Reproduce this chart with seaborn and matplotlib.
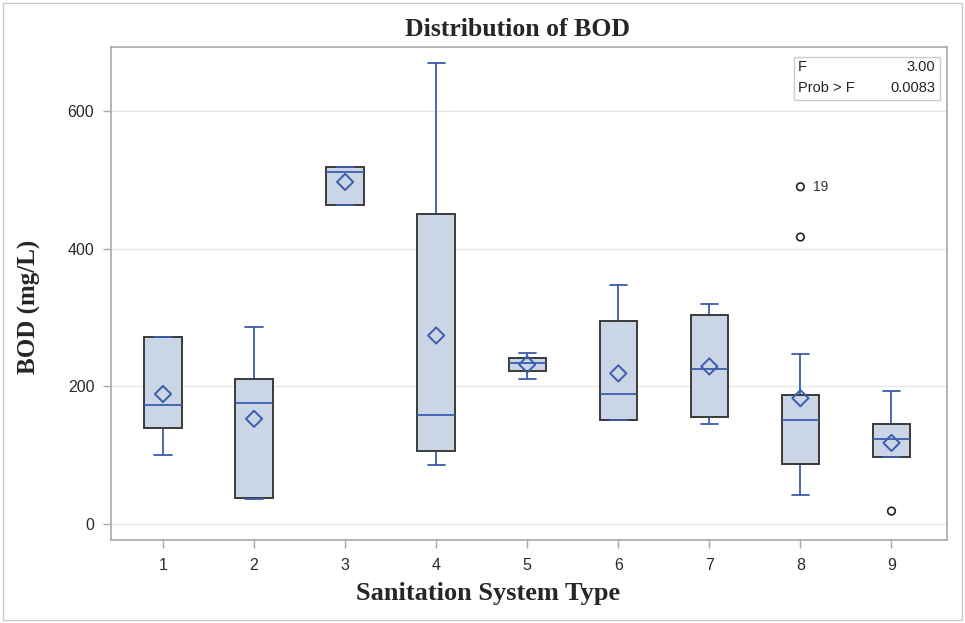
import matplotlib
matplotlib.use("Agg")
import matplotlib.pyplot as plt
from matplotlib.patches import Rectangle
import seaborn as sns
import numpy as np

# Sanitation system types and BOD box-plot summaries (mg/L)
system_types = ["1", "2", "3", "4", "5", "6", "7", "8", "9"]
q1_values = [140, 38, 464, 106, 222, 152, 155, 88, 98]
median_values = [173, 176, 511, 159, 234, 189, 226, 151, 124]
q3_values = [272, 211, 519, 450, 241, 295, 304, 188, 146]
whisker_low = [101, 36, 464, 86, 211, 151, 145, 42, 98]
whisker_high = [272, 286, 519, 670, 248, 347, 320, 247, 194]
mean_values = [189, 153, 497, 274, 232, 219, 229, 183, 118]
outlier_type = ["8", "8", "9"]
outlier_values = [490, 417, 19]
outlier_ids = ["19", "", ""]
y_ticks = [0, 200, 400, 600]
f_value = "3.00"
prob_f = "0.0083"

sns.set_theme(style="whitegrid")
plt.rcParams["font.family"] = ["Liberation Sans", "DejaVu Sans"]

BLUE = "#3A5DAE"
FILL = "#CAD5E6"
EDGE = "#3A3A3A"
SPINE = "#A8A8A8"

fig = plt.figure(figsize=(9.65, 6.23), dpi=100)
fig.patch.set_facecolor("white")
fig.add_artist(Rectangle((0.003, 0.005), 0.994, 0.99, transform=fig.transFigure,
                         fill=False, edgecolor="#C8C8C8", linewidth=1.0))
ax = fig.add_axes([0.115, 0.1332, 0.866, 0.7914])

positions = np.arange(len(system_types))
stats = []
for i, name in enumerate(system_types):
    stats.append({
        "label": name,
        "q1": q1_values[i], "med": median_values[i], "q3": q3_values[i],
        "whislo": whisker_low[i], "whishi": whisker_high[i],
        "mean": mean_values[i], "fliers": [],
    })

ax.bxp(stats, positions=positions, widths=0.41, capwidths=0.19,
       patch_artist=True, showmeans=False, showfliers=False,
       boxprops=dict(facecolor=FILL, edgecolor=EDGE, linewidth=1.4, zorder=3),
       whiskerprops=dict(color=BLUE, linewidth=1.3, zorder=2),
       capprops=dict(color=BLUE, linewidth=1.3, zorder=4),
       medianprops=dict(color=BLUE, linewidth=1.3, zorder=4))

# Group means as open diamonds
sns.scatterplot(x=positions, y=mean_values, marker="D", s=68,
                color=BLUE, linewidth=1.4, ax=ax, zorder=5)
ax.collections[-1].set_facecolor("none")
ax.collections[-1].set_edgecolor(BLUE)

# Outlying observations as open circles
out_x = [system_types.index(t) for t in outlier_type]
sns.scatterplot(x=out_x, y=outlier_values, marker="o", s=30,
                color="black", linewidth=1.2, ax=ax, zorder=5)
ax.collections[-1].set_facecolor("none")
ax.collections[-1].set_edgecolor("#222222")
for xo, yo, lab in zip(out_x, outlier_values, outlier_ids):
    if lab:
        ax.annotate(lab, (xo, yo), xytext=(9, 0), textcoords="offset points",
                    va="center", ha="left", fontsize=10, color="#333333")

ax.set_xlim(-0.571, 8.606)
ax.set_ylim(-23, 693)
ax.set_xticks(positions)
ax.set_xticklabels(system_types)
ax.set_yticks(y_ticks)
ax.grid(axis="x", visible=False)
ax.grid(axis="y", color="#E6E6E6", linewidth=1.0)
ax.set_axisbelow(True)
for sp in ax.spines.values():
    sp.set_color(SPINE)
    sp.set_linewidth(1.2)
ax.tick_params(axis="both", which="major", length=6, width=1.0, color=SPINE,
               labelsize=11.5, labelcolor="#2A2A2A", direction="out",
               bottom=True, left=True)
ax.tick_params(axis="y", pad=6)
ax.tick_params(axis="x", pad=7)

serif = ["Liberation Serif", "DejaVu Serif"]
ax.set_xlabel("Sanitation System Type", fontsize=19, fontweight="bold",
              family=serif)
ax.set_ylabel("BOD (mg/L)", fontsize=18, fontweight="bold", family=serif)
ax.xaxis.set_label_coords(0.451, -0.108)
ax.xaxis.label.set_va("center")
ax.yaxis.set_label_coords(-0.097, 0.4726)
ax.yaxis.label.set_va("center")
fig.text(0.536, 0.953, "Distribution of BOD", ha="center", va="center",
         fontsize=18.5, fontweight="bold", family=serif)

# ANOVA statistics inset
ax.add_patch(Rectangle((0.8168, 0.8925), 0.1747, 0.0872, transform=ax.transAxes,
                       fill=True, facecolor="white", edgecolor="#CCCCCC",
                       linewidth=1.0, zorder=6))
ax.text(0.822, 0.959, "F", transform=ax.transAxes, fontsize=10.5,
        color="#222222", va="center", ha="left", zorder=7)
ax.text(0.986, 0.959, f_value, transform=ax.transAxes, fontsize=10.5,
        color="#222222", va="center", ha="right", zorder=7)
ax.text(0.822, 0.917, "Prob > F", transform=ax.transAxes, fontsize=10.5,
        color="#222222", va="center", ha="left", zorder=7)
ax.text(0.986, 0.917, prob_f, transform=ax.transAxes, fontsize=10.5,
        color="#222222", va="center", ha="right", zorder=7)

fig.savefig("out.png", dpi=100, facecolor="white")
